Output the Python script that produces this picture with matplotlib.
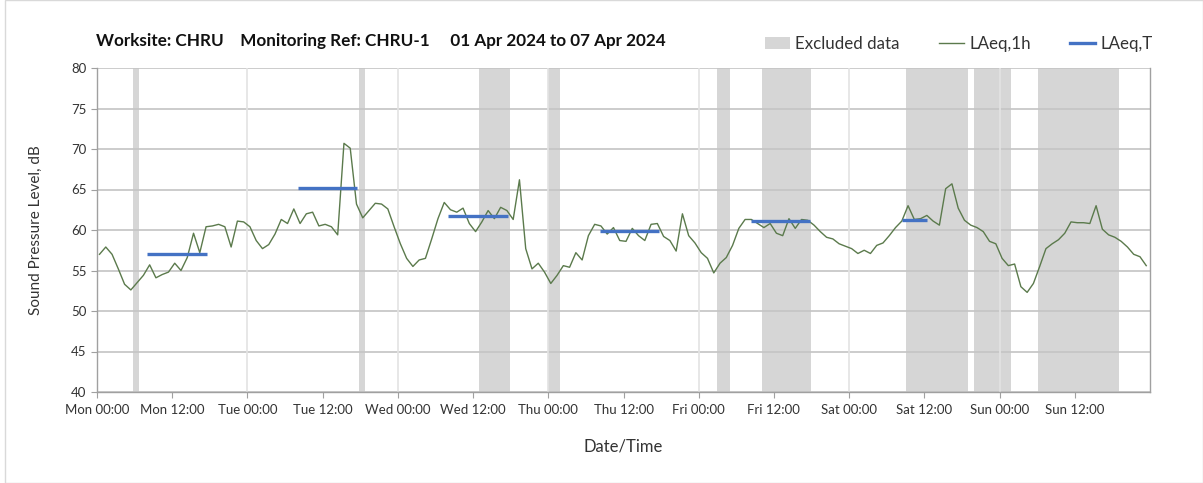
import matplotlib
matplotlib.use("Agg")
import matplotlib.pyplot as plt
from matplotlib.patches import Patch
from matplotlib.lines import Line2D
import numpy as np

plt.rcParams['font.family'] = ['Lato', 'DejaVu Sans']

# Hourly LAeq,1h values (Mon 00:00 .. Sun 23:00)
laeq_1h = [
    57.0, 57.9, 57.0, 55.2, 53.3, 52.6, 53.5, 54.4, 55.7, 54.1, 54.5, 54.8,
    55.9, 55.0, 56.6, 59.6, 57.2, 60.4, 60.5, 60.7, 60.4, 57.9, 61.1, 61.0,
    60.4, 58.7, 57.7, 58.2, 59.5, 61.3, 60.8, 62.6, 60.8, 62.0, 62.2, 60.5,
    60.7, 60.4, 59.4, 70.7, 70.1, 63.2, 61.5, 62.4, 63.3, 63.2, 62.6, 60.4,
    58.3, 56.5, 55.5, 56.3, 56.5, 58.9, 61.4, 63.4, 62.5, 62.2, 62.7, 60.8,
    59.8, 61.0, 62.4, 61.4, 62.8, 62.4, 61.3, 66.2, 57.7, 55.2, 55.9, 54.8,
    53.4, 54.4, 55.6, 55.4, 57.2, 56.3, 59.3, 60.7, 60.5, 59.5, 60.3, 58.7,
    58.6, 60.2, 59.3, 58.7, 60.7, 60.8, 59.2, 58.7, 57.4, 62.0, 59.3, 58.4,
    57.2, 56.5, 54.7, 55.9, 56.6, 58.1, 60.2, 61.3, 61.3, 60.8, 60.3, 60.8,
    59.6, 59.3, 61.4, 60.2, 61.3, 61.2, 60.6, 59.8, 59.1, 58.9, 58.3, 58.0,
    57.7, 57.1, 57.5, 57.1, 58.1, 58.4, 59.3, 60.3, 61.1, 63.0, 61.3, 61.4,
    61.8, 61.1, 60.6, 65.1, 65.7, 62.7, 61.2, 60.6, 60.3, 59.8, 58.6, 58.3,
    56.5, 55.6, 55.8, 53.0, 52.3, 53.4, 55.5, 57.7, 58.3, 58.8, 59.6, 61.0,
    60.9, 60.9, 60.8, 63.0, 60.1, 59.4, 59.1, 58.6, 57.9, 57.0, 56.7, 55.6,
]
hour_offset = 0.4

# LAeq,T periods (start hour, end hour, level)
laeqT_start = [8.0, 32.0, 56.0, 80.3, 104.3, 128.4]
laeqT_end = [17.5, 41.5, 65.6, 89.6, 113.7, 132.5]
laeqT_level = [57.0, 65.2, 61.7, 59.9, 61.1, 61.2]

# Excluded data periods (start hour, end hour)
excl_start = [5.75, 41.8, 60.9, 71.9, 98.9, 106.1, 129.0, 139.9, 150.1]
excl_end = [6.75, 42.7, 65.9, 73.8, 101.0, 113.9, 138.9, 145.9, 163.0]

days = ['Mon', 'Tue', 'Wed', 'Thu', 'Fri', 'Sat', 'Sun']
tick_labels = []
for d in days:
    tick_labels += [f'{d} 00:00', f'{d} 12:00']

fig = plt.figure(figsize=(12.03, 4.83), dpi=100)
ax = fig.add_axes([97/1203, 1 - 392/483, (1150-97)/1203, (392-68)/483])

green = '#5b7a4c'
blue = '#4472c4'
span_col = '#d6d6d6'

for s, e in zip(excl_start, excl_end):
    ax.axvspan(s, e, color=span_col, lw=0, zorder=0)

x = np.arange(len(laeq_1h)) + hour_offset
ax.plot(x, laeq_1h, color=green, lw=1.0, zorder=3)
for s, e, v in zip(laeqT_start, laeqT_end, laeqT_level):
    ax.plot([s, e], [v, v], color=blue, lw=2.4, solid_capstyle='butt', zorder=4)

ax.set_xlim(0, 168)
ax.set_ylim(40, 80)
ax.set_yticks(np.arange(40, 81, 5))
ax.set_xticks(np.arange(0, 168, 12))
ax.set_xticklabels(tick_labels)
ax.set_axisbelow(True)
ax.yaxis.grid(True, color='#c4c4c4', lw=1.2, zorder=1)
for d in range(24, 168, 24):
    ax.axvline(d, color='#e3e3e3', lw=1.2, zorder=1)

ax.spines['top'].set_visible(False)
for sp in ['left', 'bottom', 'right']:
    ax.spines[sp].set_color('#a0a0a0')
    ax.spines[sp].set_linewidth(1.0)
ax.tick_params(axis='both', colors='#a0a0a0', labelcolor='#333333', labelsize=9.5, length=4)
ax.tick_params(axis='x', pad=5)

ax.set_ylabel('Sound Pressure Level, dB', fontsize=11, color='#333333', labelpad=20)
ax.set_xlabel('Date/Time', fontsize=12, color='#333333', labelpad=16)

fig.text(96/1203, 1 - 41/483, 'Worksite: CHRU    Monitoring Ref: CHRU-1     01 Apr 2024 to 07 Apr 2024',
         fontsize=12.3, fontweight='bold', color='#111111', va='center', ha='left')

handles = [Patch(facecolor=span_col, edgecolor='none'),
           Line2D([0], [0], color=green, lw=1.0),
           Line2D([0], [0], color=blue, lw=2.4)]
fig.legend(handles, ['Excluded data', 'LAeq,1h', 'LAeq,T'], ncol=3, frameon=False,
           loc='center right', bbox_to_anchor=(1168/1203, 1 - 44/483), fontsize=12.2,
           handlelength=1.5, handletextpad=0.3, columnspacing=2.3, labelcolor='#333333')

# outer chart border
fig.patches.append(plt.Rectangle((5/1203, 0), 1 - 5/1203, 1, transform=fig.transFigure,
                                 fill=False, edgecolor='#d9d9d9', lw=1.0))

fig.savefig('out.png', dpi=100, facecolor='white')
